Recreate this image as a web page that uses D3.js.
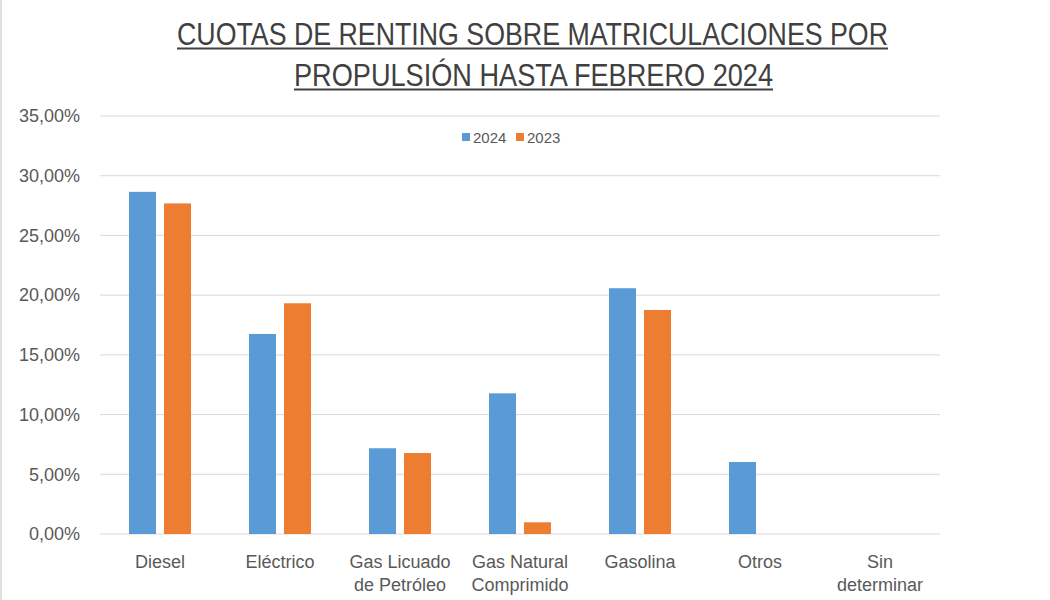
<!DOCTYPE html>
<html><head><meta charset="utf-8">
<script src="https://cdn.jsdelivr.net/npm/d3@7"></script>
<style>body{margin:0;background:#fff}svg{display:block}</style>
</head><body>
<svg id="chart" width="1050" height="600"></svg>
<script>
const categories = [["Diesel"],["Eléctrico"],["Gas Licuado","de Petróleo"],["Gas Natural","Comprimido"],["Gasolina"],["Otros"],["Sin","determinar"]];
const seriesNames = ["2024","2023"];
const values2024 = [28.65, 16.75, 7.18, 11.78, 20.58, 6.03, 0];
const values2023 = [27.68, 19.32, 6.78, 0.98, 18.76, 0, 0];
const yTicks = [0,5,10,15,20,25,30,35];
const titleLines = ["CUOTAS DE RENTING SOBRE MATRICULACIONES POR","PROPULSIÓN HASTA FEBRERO 2024"];
const colors = ["#5B9BD5","#ED7D31"];

(function(){
const svg = d3.select("#chart");
const font = "'Liberation Sans', Arial, sans-serif";
const mLeft = 100, mRight = 940, mTop = 116, mBottom = 534;

svg.append("line").attr("x1",1).attr("x2",1).attr("y1",0).attr("y2",600).attr("stroke","#e0e0e0").attr("stroke-width",2);

const y = d3.scaleLinear().domain([0,35]).range([mBottom, mTop]);
const keys = categories.map(c => c.join(" "));
const x0 = d3.scaleBand().domain(keys).range([mLeft, mRight]).padding(0);
const x1 = d3.scaleBand().domain(seriesNames).range([29, 91]).paddingInner(0.2286).paddingOuter(0);

// gridlines
svg.append("g").selectAll("line").data(yTicks).join("line")
  .attr("x1", mLeft).attr("x2", mRight)
  .attr("y1", d => y(d)).attr("y2", d => y(d))
  .attr("stroke", "#d9d9d9").attr("stroke-width", 1);

// y axis labels
const yAxis = d3.axisLeft(y).tickValues(yTicks).tickSize(0).tickPadding(0)
  .tickFormat(d => d3.format(".2f")(d).replace(".", ",") + "%");
const ya = svg.append("g").attr("transform", `translate(80,0)`).call(yAxis);
ya.select(".domain").remove();
ya.selectAll("text").attr("font-family", font).attr("font-size", 18).attr("fill", "#595959");

// bars
const data = keys.map((k, i) => ({key: k, vals: [values2024[i], values2023[i]]}));
const groups = svg.append("g").selectAll("g").data(data).join("g")
  .attr("transform", d => `translate(${x0(d.key)},0)`);
groups.selectAll("rect").data(d => d.vals.map((v, j) => ({s: seriesNames[j], v, j}))).join("rect")
  .attr("x", d => x1(d.s)).attr("width", x1.bandwidth())
  .attr("y", d => y(d.v)).attr("height", d => y(0) - y(d.v))
  .attr("fill", d => colors[d.j]);

// x labels
const xl = svg.append("g").selectAll("text").data(categories).join("text")
  .attr("x", (d, i) => x0(keys[i]) + x0.bandwidth() / 2)
  .attr("y", 568)
  .attr("text-anchor", "middle").attr("font-family", font).attr("font-size", 18).attr("fill", "#595959");
xl.selectAll("tspan").data(d => d).join("tspan")
  .attr("x", function(){ return this.parentNode.getAttribute("x"); })
  .attr("dy", (d, i) => i === 0 ? 0 : 23)
  .text(d => d);

// legend
const legend = svg.append("g");
const lx = [462, 516];
seriesNames.forEach((s, i) => {
  legend.append("rect").attr("x", lx[i]).attr("y", 133).attr("width", 8).attr("height", 8).attr("fill", colors[i]);
  legend.append("text").attr("x", lx[i] + 11).attr("y", 143).attr("font-family", font).attr("font-size", 15)
    .attr("fill", "#595959").text(s);
});

// title
const tl = [{x1:177, x2:888, y:45, uy:48.5}, {x1:294, x2:773, y:86, uy:89.5}];
titleLines.forEach((t, i) => {
  svg.append("text").attr("x", tl[i].x1).attr("y", tl[i].y)
    .attr("font-family", font).attr("font-size", 31).attr("fill", "#404040")
    .attr("textLength", tl[i].x2 - tl[i].x1).attr("lengthAdjust", "spacingAndGlyphs")
    .text(t);
  svg.append("line").attr("x1", tl[i].x1).attr("x2", tl[i].x2).attr("y1", tl[i].uy).attr("y2", tl[i].uy)
    .attr("stroke", "#404040").attr("stroke-width", 1.8);
});
})();
</script>
</body></html>
